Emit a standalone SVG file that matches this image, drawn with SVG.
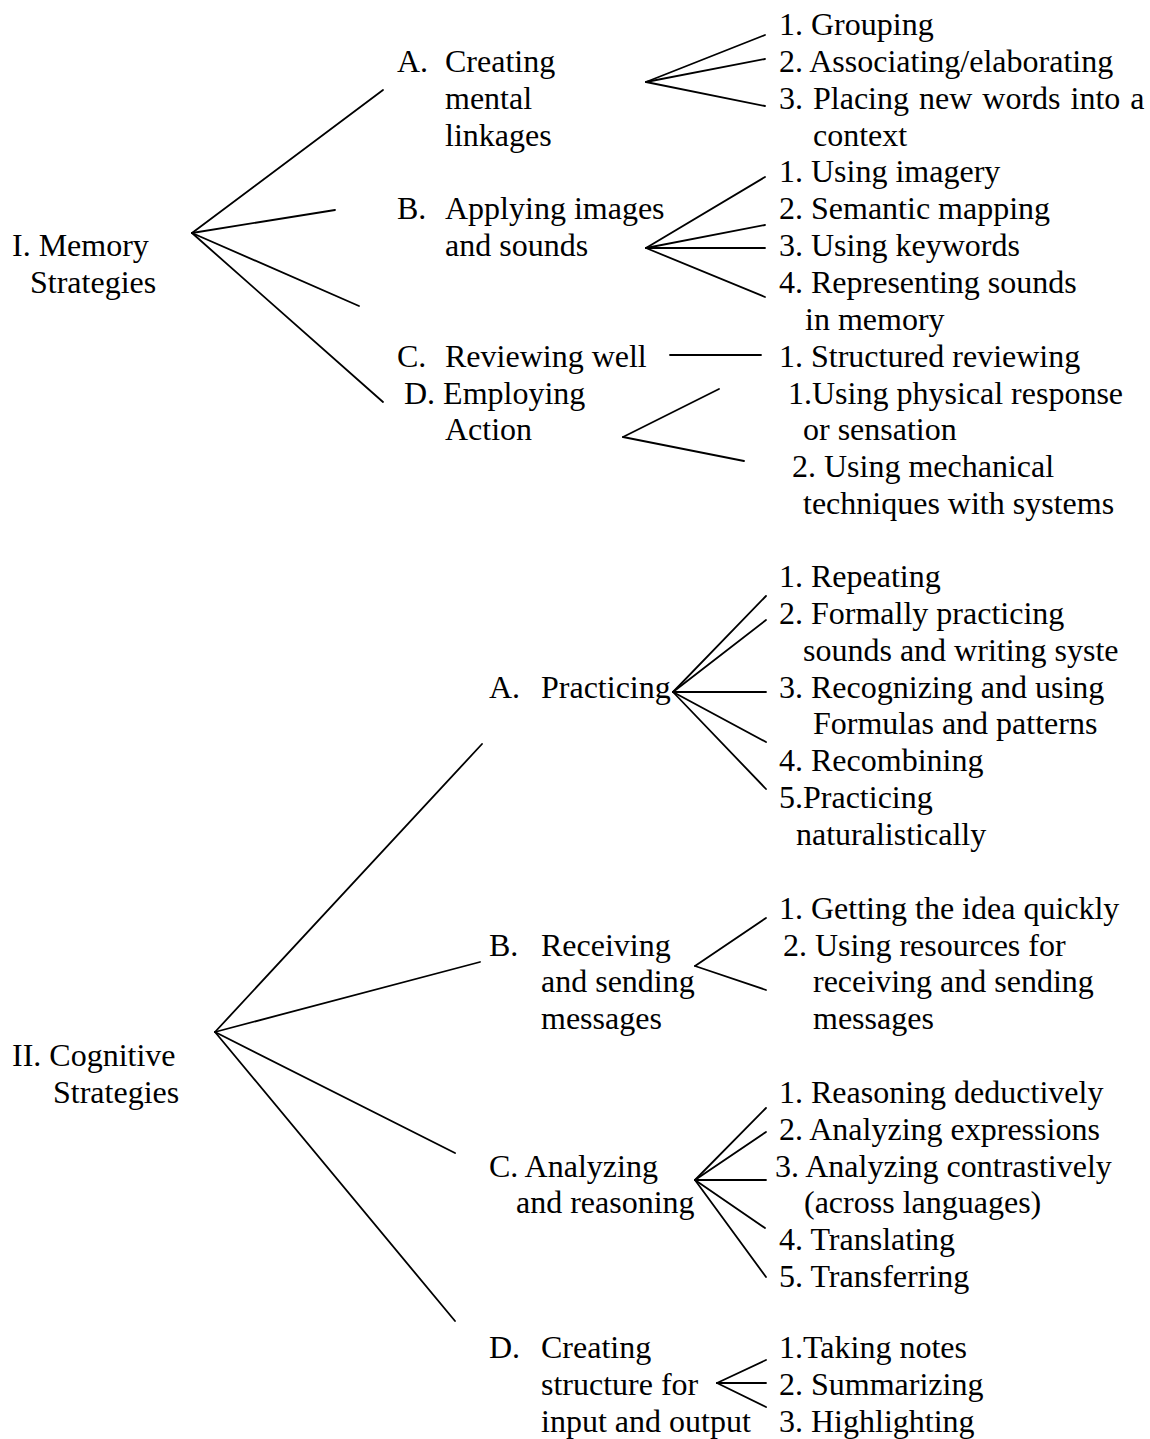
<svg xmlns="http://www.w3.org/2000/svg" width="1150" height="1439" viewBox="0 0 1150 1439">
<style>
text { font-family: "Liberation Serif", "Times New Roman", serif; font-size: 32px; fill: #000; }
.c line { stroke: #000; stroke-width: 1.8; stroke-linecap: round; }
</style>
<rect width="1150" height="1439" fill="#fff"/>
<g class="c" id="connectors">
  <!-- Memory root -->
  <line x1="192" y1="233" x2="383" y2="90"/>
  <line x1="192" y1="233" x2="335" y2="210"/>
  <line x1="192" y1="233" x2="359" y2="306"/>
  <line x1="192" y1="233" x2="383" y2="402"/>
  <!-- Memory A -->
  <line x1="646" y1="82" x2="765" y2="35"/>
  <line x1="646" y1="82" x2="765" y2="59"/>
  <line x1="646" y1="82" x2="765" y2="106"/>
  <!-- Memory B -->
  <line x1="646" y1="248" x2="765" y2="177"/>
  <line x1="646" y1="248" x2="765" y2="225"/>
  <line x1="646" y1="248" x2="765" y2="248"/>
  <line x1="646" y1="248" x2="765" y2="297"/>
  <!-- Memory C -->
  <line x1="670" y1="355" x2="761" y2="355"/>
  <!-- Memory D -->
  <line x1="623" y1="437" x2="719" y2="389"/>
  <line x1="623" y1="437" x2="744" y2="461"/>
  <!-- Cognitive root -->
  <line x1="215" y1="1032" x2="482" y2="744"/>
  <line x1="215" y1="1032" x2="480" y2="962"/>
  <line x1="215" y1="1032" x2="455" y2="1153"/>
  <line x1="215" y1="1032" x2="455" y2="1321"/>
  <!-- Cognitive A -->
  <line x1="673" y1="692" x2="766" y2="596"/>
  <line x1="673" y1="692" x2="766" y2="620"/>
  <line x1="673" y1="692" x2="766" y2="692"/>
  <line x1="673" y1="692" x2="766" y2="742"/>
  <line x1="673" y1="692" x2="766" y2="789"/>
  <!-- Cognitive B -->
  <line x1="695" y1="966" x2="766" y2="918"/>
  <line x1="695" y1="966" x2="766" y2="990"/>
  <!-- Cognitive C -->
  <line x1="695" y1="1180" x2="766" y2="1108"/>
  <line x1="695" y1="1180" x2="766" y2="1132"/>
  <line x1="695" y1="1180" x2="766" y2="1180"/>
  <line x1="695" y1="1180" x2="765" y2="1228"/>
  <line x1="695" y1="1180" x2="766" y2="1277"/>
  <!-- Cognitive D -->
  <line x1="717" y1="1383" x2="766" y2="1360"/>
  <line x1="717" y1="1383" x2="766" y2="1383"/>
  <line x1="717" y1="1383" x2="766" y2="1407"/>
</g>

<g id="memory">
  <text x="12" y="256">I. Memory</text>
  <text x="30" y="293">Strategies</text>
</g>
<g id="mem-A">
  <text y="72"><tspan x="397">A.</tspan><tspan x="445">Creating</tspan></text>
  <text x="445" y="109">mental</text>
  <text x="445" y="146">linkages</text>
</g>
<g id="mem-A-items">
  <text x="779" y="35">1. Grouping</text>
  <text x="779" y="72">2. Associating/elaborating</text>
  <text x="779" y="109" word-spacing="2">3. Placing new words into a</text>
  <text x="813" y="146">context</text>
</g>
<g id="mem-B">
  <text y="219"><tspan x="397">B.</tspan><tspan x="445">Applying images</tspan></text>
  <text x="445" y="256">and sounds</text>
</g>
<g id="mem-B-items">
  <text x="779" y="182">1. Using imagery</text>
  <text x="779" y="219">2. Semantic mapping</text>
  <text x="779" y="256">3. Using keywords</text>
  <text x="779" y="293">4. Representing sounds</text>
  <text x="805" y="330">in memory</text>
</g>
<g id="mem-C">
  <text y="367"><tspan x="397">C.</tspan><tspan x="445">Reviewing well</tspan></text>
</g>
<g id="mem-C-items">
  <text x="779" y="367">1. Structured reviewing</text>
</g>
<g id="mem-D">
  <text x="404" y="404">D. Employing</text>
  <text x="445" y="440">Action</text>
</g>
<g id="mem-D-items">
  <text x="788" y="404">1.Using physical response</text>
  <text x="803" y="440">or sensation</text>
  <text x="792" y="477">2. Using mechanical</text>
  <text x="803" y="514">techniques with systems</text>
</g>

<g id="cognitive">
  <text x="12" y="1066">II. Cognitive</text>
  <text x="53" y="1103">Strategies</text>
</g>
<g id="cog-A">
  <text y="698"><tspan x="489">A.</tspan><tspan x="541">Practicing</tspan></text>
</g>
<g id="cog-A-items">
  <text x="779" y="587">1. Repeating</text>
  <text x="779" y="624">2. Formally practicing</text>
  <text x="803" y="661">sounds and writing syste</text>
  <text x="779" y="698">3. Recognizing and using</text>
  <text x="813" y="734">Formulas and patterns</text>
  <text x="779" y="771">4. Recombining</text>
  <text x="779" y="808">5.Practicing</text>
  <text x="796" y="845">naturalistically</text>
</g>
<g id="cog-B">
  <text y="956"><tspan x="489">B.</tspan><tspan x="541">Receiving</tspan></text>
  <text x="541" y="992">and sending</text>
  <text x="541" y="1029">messages</text>
</g>
<g id="cog-B-items">
  <text x="779" y="919">1. Getting the idea quickly</text>
  <text x="783" y="956">2. Using resources for</text>
  <text x="813" y="992">receiving and sending</text>
  <text x="813" y="1029">messages</text>
</g>
<g id="cog-C">
  <text x="489" y="1177">C. Analyzing</text>
  <text x="516" y="1213">and reasoning</text>
</g>
<g id="cog-C-items">
  <text x="779" y="1103">1. Reasoning deductively</text>
  <text x="779" y="1140">2. Analyzing expressions</text>
  <text x="775" y="1177">3. Analyzing contrastively</text>
  <text x="804" y="1213">(across languages)</text>
  <text x="779" y="1250">4. Translating</text>
  <text x="779" y="1287">5. Transferring</text>
</g>
<g id="cog-D">
  <text y="1358"><tspan x="489">D.</tspan><tspan x="541">Creating</tspan></text>
  <text x="541" y="1395">structure for</text>
  <text x="541" y="1432">input and output</text>
</g>
<g id="cog-D-items">
  <text x="779" y="1358">1.Taking notes</text>
  <text x="779" y="1395">2. Summarizing</text>
  <text x="779" y="1432">3. Highlighting</text>
</g>
</svg>
